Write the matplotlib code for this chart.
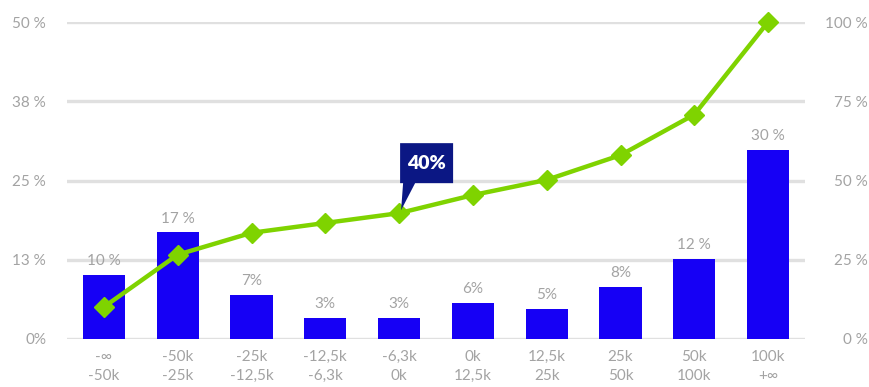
import matplotlib
matplotlib.use("Agg")
import matplotlib.pyplot as plt
import matplotlib.transforms as mtransforms
from matplotlib.patches import Polygon

plt.rcParams['font.family'] = ['Lato', 'DejaVu Sans']

# ---- data ----
categories = ["-∞\n-50k", "-50k\n-25k", "-25k\n-12,5k", "-12,5k\n-6,3k", "-6,3k\n0k",
              "0k\n12,5k", "12,5k\n25k", "25k\n50k", "50k\n100k", "100k\n+∞"]
bar_values = [10.1, 16.8, 6.9, 3.3, 3.3, 5.7, 4.7, 8.2, 12.6, 29.8]
bar_labels = ["10 %", "17 %", "7%", "3%", "3%", "6%", "5%", "8%", "12 %", "30 %"]
cum_values = [10.1, 26.6, 33.5, 36.6, 39.7, 45.4, 50.2, 58.0, 70.8, 100.0]
left_ticks = [0, 12.5, 25, 37.5, 50]
left_tick_labels = ["0%", "13 %", "25 %", "38 %", "50 %"]
right_ticks = [0, 25, 50, 75, 100]
right_tick_labels = ["0 %", "25 %", "50 %", "75 %", "100 %"]
highlight_index = 4
highlight_label = "40%"

BAR_COLOR = "#1600f5"
LINE_COLOR = "#7fd300"
TEXT_COLOR = "#a3a3a3"
GRID_COLOR = "#e0e0e0"
CALLOUT_COLOR = "#0b1784"

W, H = 869, 387
fig = plt.figure(figsize=(W / 100, H / 100), dpi=100)
ax = fig.add_axes([67 / W, 48 / H, 738 / W, 317 / H])
ax2 = ax.twinx()

x = list(range(len(categories)))
ax.set_xlim(-0.5, 9.5)
ax.set_ylim(0, 50)
ax2.set_ylim(0, 100)

# gridlines
for t in left_ticks:
    ax.axhline(t, color=GRID_COLOR, lw=2.4, zorder=0)

ax.bar(x, bar_values, width=0.57, color=BAR_COLOR, zorder=2)
for xi, v, lab in zip(x, bar_values, bar_labels):
    ax.annotate(lab, (xi, v), xytext=(0, 5), textcoords="offset points",
                ha="center", va="bottom", fontsize=11, color=TEXT_COLOR)

ax2.plot(x, cum_values, color=LINE_COLOR, lw=3.2, marker="D", markersize=10,
         clip_on=False, zorder=3)

# callout
xd, yd = x[highlight_index], cum_values[highlight_index]
trans = fig.dpi_scale_trans + mtransforms.ScaledTranslation(xd, yd, ax2.transData)
box = [(0.01, 0.30), (0.04, 0.30), (0.02, 0.03), (0.16, 0.30), (0.54, 0.30),
       (0.54, 0.70), (0.01, 0.70)]
ax2.add_patch(Polygon(box, closed=True, transform=trans, facecolor=CALLOUT_COLOR,
                      edgecolor="none", zorder=5, clip_on=False))
ax2.text(0.275, 0.50, highlight_label, transform=trans, ha="center", va="center",
         color="white", fontsize=14, fontweight="heavy", zorder=6)

# axes styling
for a in (ax, ax2):
    for s in a.spines.values():
        s.set_visible(False)
    a.tick_params(length=0)

ax.set_xticks(x)
ax.set_xticklabels(categories, fontsize=11, color=TEXT_COLOR, linespacing=1.45)
ax.tick_params(axis="x", pad=8)
ax.set_yticks(left_ticks)
ax.set_yticklabels(left_tick_labels, fontsize=11, color=TEXT_COLOR)
ax.tick_params(axis="y", pad=15)
ax2.set_yticks(right_ticks)
ax2.set_yticklabels(right_tick_labels, fontsize=11, color=TEXT_COLOR)
ax2.tick_params(axis="y", pad=45)
for lab in ax2.get_yticklabels():
    lab.set_horizontalalignment("right")

fig.savefig("out.png", dpi=100)
